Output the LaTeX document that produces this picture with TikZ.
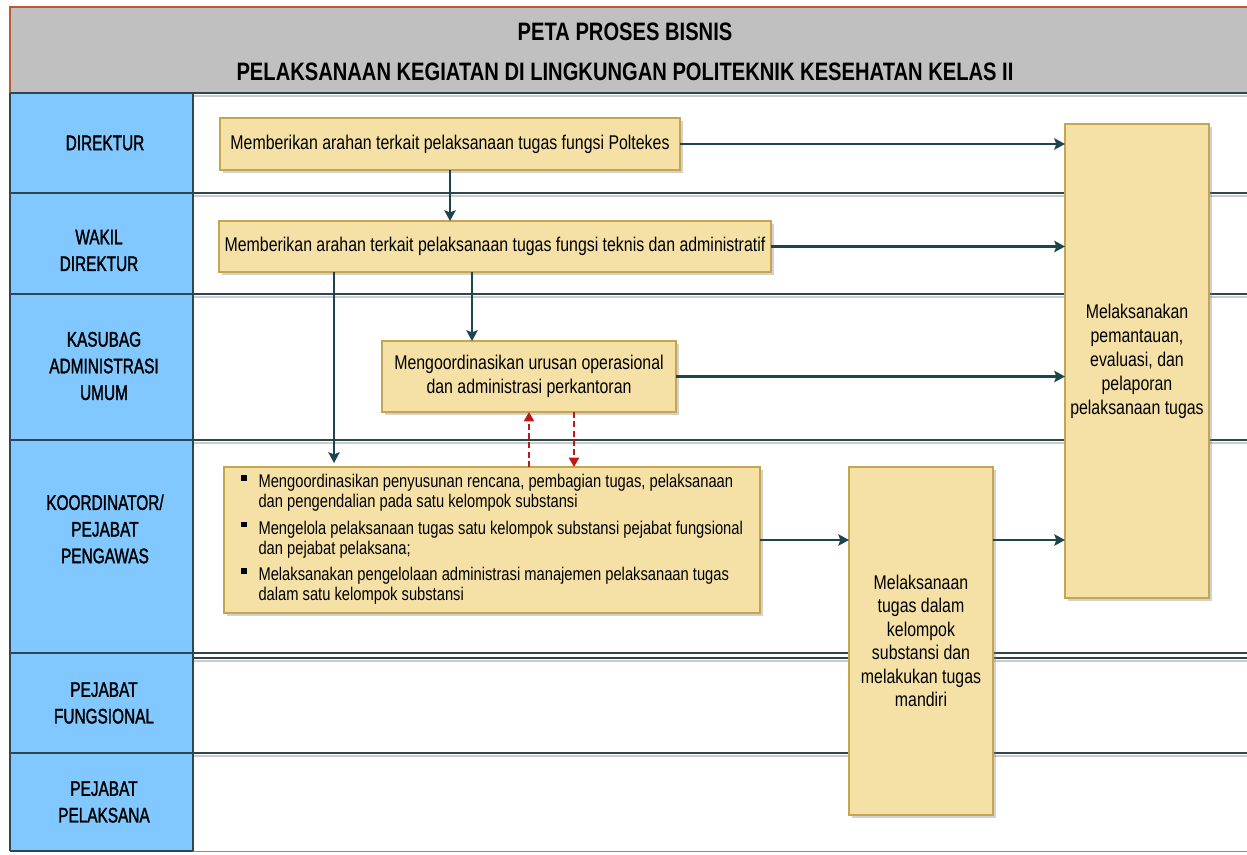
\documentclass[tikz,border=0pt]{standalone}
\usepackage{fontspec}
\setmainfont{Liberation Sans}[FakeStretch=0.8]
\newfontfamily\lanefont{Liberation Sans}[FakeStretch=0.73, FakeBold=1.5]
\usetikzlibrary{arrows.meta,shadows,calc}
\definecolor{laneblue}{RGB}{128,200,255}
\definecolor{boxfill}{RGB}{245,225,166}
\definecolor{boxline}{RGB}{196,165,80}
\definecolor{flow}{RGB}{30,68,78}
\definecolor{laneline}{RGB}{45,70,80}
\definecolor{hdrgray}{RGB}{192,192,192}
\definecolor{hdrline}{RGB}{185,90,50}
\definecolor{redflow}{RGB}{190,25,25}
\tikzset{
  procbox/.style={draw=boxline, fill=boxfill, line width=0.8pt, inner sep=0pt, outer sep=0pt, align=center,
    drop shadow={shadow xshift=2pt, shadow yshift=-2pt, opacity=0.35}},
  boxfont/.style={font=\fontsize{14.9}{18}\selectfont},
  lanelabel/.style={align=center, font=\lanefont\fontsize{15.8}{20}\selectfont, inner sep=0pt},
  flowarrow/.style={draw=flow, line width=2pt, -{Stealth[length=8pt,width=8.5pt,inset=1.5pt]}},
  feedback/.style={draw=redflow, line width=1.7pt, dash pattern=on 4.5pt off 2.5pt, -{Triangle[length=7pt,width=7.5pt]}},
  laneln/.style={draw=laneline, line width=1.1pt},
  lanesh/.style={draw=black!40, line width=2pt, opacity=0.5},
}
\newcommand{\bulsq}{\raisebox{5pt}{\rule{4.3pt}{4.3pt}}}
\begin{document}
\begin{tikzpicture}[x=0.75pt,y=-0.75pt]
\useasboundingbox (0,0) rectangle (1247,854);
\clip (0,0) rectangle (1247,854);
\fill[white] (0,0) rectangle (1247,854);
% header
\fill[hdrgray] (10,7) rectangle (1260,93);
\draw[hdrline, line width=0.8pt] (10,93) -- (10,7) -- (1260,7);
\node[align=center, font=\fontsize{18.9}{30}\bfseries\selectfont, inner sep=0pt] (title) at (625,52)
  {PETA PROSES BISNIS\\PELAKSANAAN KEGIATAN DI LINGKUNGAN POLITEKNIK KESEHATAN KELAS II};
% lane column
\fill[laneblue] (10,93) rectangle (193,851);
% lane separator shadows
\foreach \yy in {93,193,294,440,658,753} {
  \draw[lanesh] (193,\yy+3) -- (1260,\yy+3);
}
% lane separators
\foreach \yy in {93,193,294,440,653,753} {
  \draw[laneln] (10,\yy) -- (1260,\yy);
}
\draw[laneln] (193,658) -- (1260,658);
\draw[laneln] (10,851) -- (193,851);
\draw[black!45, line width=0.6pt] (193,851) -- (1260,851);
\draw[laneln] (10,93) -- (10,851);
\draw[laneln] (193,93) -- (193,851);
% lane labels
\node[lanelabel] (l1) at (105,143) {DIREKTUR};
\node[lanelabel] (l2) at (99,250.5) {WAKIL\\DIREKTUR};
\node[lanelabel] (l3) at (104,366) {KASUBAG\\ADMINISTRASI\\UMUM};
\node[lanelabel] (l4) at (105,529) {KOORDINATOR/\\PEJABAT\\PENGAWAS};
\node[lanelabel] (l5) at (104,703) {PEJABAT\\FUNGSIONAL};
\node[lanelabel] (l6) at (104,802) {PEJABAT\\PELAKSANA};
% process boxes
\node[procbox, boxfont, minimum width=345pt, minimum height=39pt] (b1) at (450,144)
  {Memberikan arahan terkait pelaksanaan tugas fungsi Poltekes};
\node[procbox, boxfont, minimum width=414pt, minimum height=38.25pt] (b2) at (495,246.5)
  {Memberikan arahan terkait pelaksanaan tugas fungsi teknis dan administratif};
\node[procbox, boxfont, minimum width=220.5pt, minimum height=53.25pt] (b3) at (529,376.5)
  {Mengoordinasikan urusan operasional\\dan administrasi perkantoran};
\node[procbox, minimum width=402pt, minimum height=109.5pt, font=\fontsize{13.8}{15}\selectfont] (b4) at (492,540)
  {\begin{tabular}{@{}l@{\hspace{8.8pt}}l@{}}
   \bulsq & Mengoordinasikan penyusunan rencana, pembagian tugas, pelaksanaan\\
          & dan pengendalian pada satu kelompok substansi\\[5pt]
   \bulsq & Mengelola pelaksanaan tugas satu kelompok substansi pejabat fungsional\\
          & dan pejabat pelaksana;\\[5pt]
   \bulsq & Melaksanakan pengelolaan administrasi manajemen pelaksanaan tugas\\
          & dalam satu kelompok substansi
   \end{tabular}};
\node[procbox, minimum width=108pt, minimum height=261pt, font=\fontsize{14.9}{17.6}\selectfont] (b5) at (921,641)
  {Melaksanaan\\tugas dalam\\kelompok\\substansi dan\\melakukan tugas\\mandiri};
\node[procbox, boxfont, minimum width=108pt, minimum height=355.5pt] (b6) at (1137,361)
  {Melaksanakan\\pemantauan,\\evaluasi, dan\\pelaporan\\pelaksanaan tugas};
% helper coordinates
\coordinate (t3) at ([xshift=-42.75pt]b3.north);
\coordinate (t4) at ([xshift=-118.5pt]b4.north);
\coordinate (r2) at ([xshift=33.75pt]b3.south);
% connectors
\draw[flowarrow] (b1.east) -- (b1.east -| b6.west);
\draw[flowarrow] (b2.east) -- (b2.east -| b6.west);
\draw[flowarrow] (b3.east) -- (b3.east -| b6.west);
\draw[flowarrow] (b4.east) -- (b4.east -| b5.west);
\draw[flowarrow] (b5.east |- b4.east) -- (b4.east -| b6.west);
\draw[flowarrow] (b1.south) -- (b1.south |- b2.north);
\draw[flowarrow] (t3 |- b2.south) -- (t3);
\draw[flowarrow, shorten >=3pt] (t4 |- b2.south) -- (t4);
\draw[feedback] (b3.south |- b4.north) -- (b3.south);
\draw[feedback] (r2) -- (r2 |- b4.north);
\end{tikzpicture}
\end{document}
